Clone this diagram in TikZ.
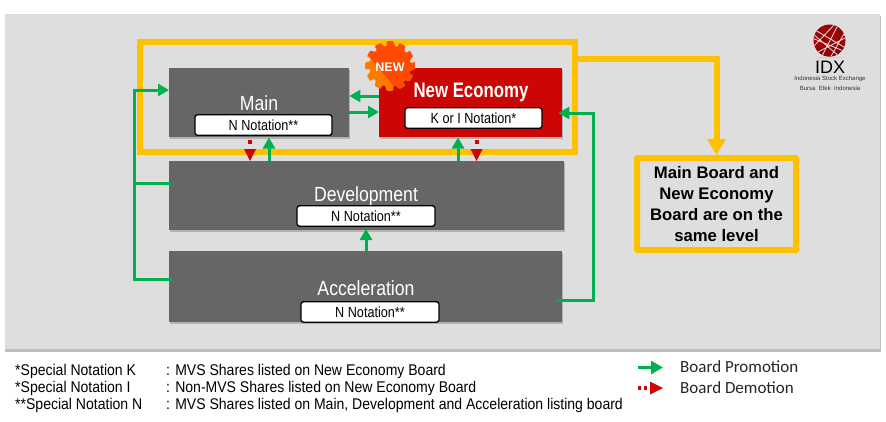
\documentclass[tikz,border=0pt]{standalone}
\usepackage{fontspec}
\usetikzlibrary{arrows.meta,calc}
\setmainfont{Liberation Sans}
\newfontfamily\narrowf[FakeStretch=0.86]{Liberation Sans}
\newfontfamily\notef[FakeStretch=0.905]{Liberation Sans}
\newfontfamily\boldnarrow[FakeStretch=0.8]{Liberation Sans}
\newfontfamily\legendf{Carlito}
\definecolor{panelgray}{HTML}{DEDEDE}
\definecolor{boxgray}{HTML}{666666}
\definecolor{idxred}{HTML}{CC0605}
\definecolor{idxgreen}{HTML}{00B050}
\definecolor{idxyellow}{HTML}{FFC000}
\definecolor{cogdark}{HTML}{FF4A00}
\definecolor{coglight}{HTML}{FF7A00}
\tikzset{
  board/.style={draw=none,fill=#1,minimum height=0pt,inner sep=0pt},
  boardlabel/.style={text=white,font=\narrowf\fontsize{20.5}{22}\selectfont,inner sep=0pt},
  notation/.style={draw=black,fill=white,rounded corners=2.5pt,line width=1.3pt,inner sep=0pt,
    font=\narrowf\fontsize{14.7}{16}\selectfont,text=black,minimum height=20.5pt},
  promo/.style={draw=idxgreen,line width=3pt,-{Triangle[length=11pt,width=12pt,fill=idxgreen]}},
  promoline/.style={draw=idxgreen,line width=3pt},
  demotri/.style={fill=idxred,draw=none},
  yellowline/.style={draw=idxyellow,line width=6pt},
  notetext/.style={font=\notef\fontsize{15.5}{17}\selectfont,text=black,anchor=west,inner sep=0pt},
  legendtext/.style={font=\legendf\fontsize{17}{19}\selectfont,text=black!85,anchor=west,inner sep=0pt},
  shadowbox/.style={fill=black!30,draw=none}
}
\newcommand{\boardbox}[6]{% name, x1,y1,x2,y2,color
  \fill[shadowbox] (#2+1,#3+2) rectangle (#4+1,#5+2);
  \node[board=#6,anchor=north west,minimum width={(#4-#2)*1pt},minimum height={(#5-#3)*1pt}] (#1) at (#2,#3) {};
}
\newcommand{\cogshape}{%
  ({390+25*cos(-8)},{66+25*sin(-8)})
  \foreach \i in {0,...,11}{
    -- ({390+25*cos(\i*30-8)},{66+25*sin(\i*30-8)})
    -- ({390+25*cos(\i*30+8)},{66+25*sin(\i*30+8)})
    -- ({390+20.5*cos(\i*30+13)},{66+20.5*sin(\i*30+13)})
    -- ({390+20.5*cos(\i*30+22)},{66+20.5*sin(\i*30+22)})
  } -- cycle}
\begin{document}
\begin{tikzpicture}[x=1pt,y=-1pt]
\useasboundingbox (0,0) rectangle (886,421);
\fill[white] (0,0) rectangle (886,421);
% panel
\fill[black!25] (5,16) rectangle (881,352);
\node[board=panelgray,anchor=north west,minimum width=875pt,minimum height=335pt] (panel) at (5,14) {};
% yellow frame
\node[draw=idxyellow,line width=6pt,outer sep=0pt,anchor=north west,minimum width=435pt,minimum height=110pt,inner sep=0pt] (frame) at (140,42) {};
% boards
\boardbox{main}{169}{68}{349}{137}{boxgray}
\boardbox{neweco}{379}{68}{562}{137}{idxred}
\boardbox{dev}{169}{161}{564}{230}{boxgray}
\boardbox{acc}{169}{251}{562}{322}{boxgray}
% labels
\node[boardlabel] (mainlabel) at (259,103) {Main};
\node[text=white,inner sep=0pt,font=\boldnarrow\bfseries\fontsize{21}{23}\selectfont] (nelabel) at (471,92) {New Economy};
\node[boardlabel] (devlabel) at (366,196) {Development};
\node[boardlabel] (acclabel) at (366,288) {Acceleration};
% notation boxes
\node[notation,minimum width=137pt] (mainnote) at (263.5,125) {N Notation**};
\node[notation,minimum width=137pt] (nenote) at (473.5,118) {K or I Notation*};
\node[notation,minimum width=138pt] (devnote) at (366,216) {N Notation**};
\node[notation,minimum width=138pt] (accnote) at (370,312) {N Notation**};
% NEW cog
\fill[coglight,rounded corners=1pt] \cogshape;
\begin{scope}
\clip (355,39.4) -- (355,30) -- (425,30) -- (425,124.4) -- cycle;
\fill[cogdark,rounded corners=1pt] \cogshape;
\end{scope}
\node[text=white,inner sep=0pt,font=\bfseries\fontsize{12.5}{14}\selectfont] (newtag) at (390,67) {NEW};
% yellow callout
\node[draw=idxyellow,line width=6pt,outer sep=0pt,rounded corners=0.5pt,anchor=north west,minimum width=159pt,minimum height=92pt,inner sep=0pt,
  align=center,text=black,font=\bfseries\fontsize{16.7}{21}\selectfont] (callout) at (637,158) {Main Board and\\New Economy\\Board are on the\\same level};
\coordinate (frameexit) at (frame.east |- 0,59);
\draw[yellowline,-{Triangle[length=16pt,width=18pt,fill=idxyellow]}] (frameexit) -| ($(callout.north)+(0,-3)$);
% green promotions
\coordinate (leftrail) at (134,183);
\coordinate (accleft) at (172,279);
\coordinate (devleft) at (171,183);
\coordinate (maininL) at (main.west |- 0,90);
\draw[promoline] (accleft) -| (leftrail);
\draw[promoline] (devleft) -- (leftrail);
\draw[promo] (leftrail) |- (maininL);
\coordinate (mnA) at (neweco.west |- 0,96);
\coordinate (mnB) at (main.east |- 0,96);
\coordinate (mnC) at (main.east |- 0,112);
\coordinate (mnD) at (neweco.west |- 0,112);
\draw[promo] (mnA) -- (mnB);
\draw[promo] (mnC) -- (mnD);
\coordinate (dm) at (269,161);
\draw[promo] (dm) -- (269,137.5);
\coordinate (dn) at (458,161);
\draw[promo] (dn) -- (458,137.5);
\coordinate (ad) at (366,251);
\draw[promo] (ad) -- (366,229);
\coordinate (accout) at (555,300.5);
\coordinate (rail) at (593,113);
\coordinate (nein) at (neweco.east |- rail);
\draw[promo] (accout) -| (rail) -- ($(nein)+(-4,0)$);
% red demotions
\fill[idxred] (248,140) rectangle (252,144);
\fill[demotri] (244,149) -- (256,149) -- (250,161) -- cycle;
\fill[idxred] (474.5,140) rectangle (478.5,144);
\fill[demotri] (470.5,149) -- (482.5,149) -- (476.5,161) -- cycle;
% logo
\begin{scope}
\clip (829.5,40.5) circle (16);
\fill[idxred!75!black] (829.5,40.5) circle (16);
\fill[black!35!idxred] (812,50) -- (848,44) -- (848,58) -- (812,58) -- cycle;
\draw[white!85!idxred,line width=0.8pt] (812,38) -- (846,52) (815,30) -- (844,47) (822,56) -- (838,25) (830,58) -- (845,32) (813,47) -- (835,24) (813,34)--(840,57) (818,52)--(845,38);
\end{scope}
\fill[black!18] (815,56.5) rectangle (845,57.2);
\node[inner sep=0pt,text=black,font=\fontsize{18}{19}\selectfont] (idx) at (830,67) {IDX};
\node[inner sep=0pt,text=black!80,font=\fontsize{6}{7}\selectfont] (idx1) at (830,79) {Indonesia Stock Exchange};
\node[inner sep=0pt,text=black!80,font=\fontsize{6}{7}\selectfont] (idx2) at (830,88) {Bursa\ \ Efek\ \ Indonesia};
% notes
\node[notetext] (n1) at (15,371) {*Special Notation K};
\node[notetext] (n2) at (15,388) {*Special Notation I};
\node[notetext] (n3) at (15,405) {**Special Notation N};
\node[notetext] (t1) at (166,371) {: MVS Shares listed on New Economy Board};
\node[notetext] (t2) at (166,388) {: Non-MVS Shares listed on New Economy Board};
\node[notetext] (t3) at (166,405) {: MVS Shares listed on Main, Development and Acceleration listing board};
% legend
\node[legendtext] (lg1) at (680,367) {Board Promotion};
\node[legendtext] (lg2) at (680,388) {Board Demotion};
\coordinate (lgA) at (638,367.5);
\coordinate (lgB) at (663,367.5);
\draw[promo,-{Triangle[length=12pt,width=13pt,fill=idxgreen]}] (lgA) -- (lgB);
\fill[idxred] (638,386) rectangle (641,390);
\fill[idxred] (644,386) rectangle (647,390);
\fill[demotri] (650,381.5) -- (663,388) -- (650,394.5) -- cycle;
\end{tikzpicture}
\end{document}
